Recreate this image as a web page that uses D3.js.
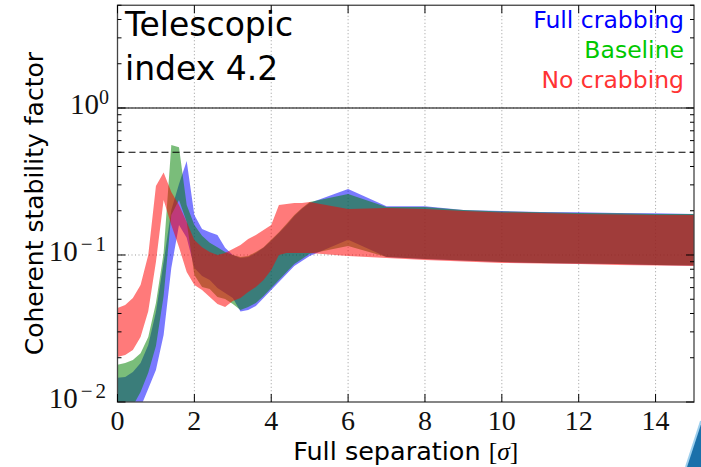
<!DOCTYPE html>
<html>
<head>
<meta charset="utf-8">
<script src="https://cdn.jsdelivr.net/npm/d3@7"></script>
<style>
  body { margin: 0; background: #fff; }
  svg { display: block; }
</style>
</head>
<body>
<svg id="chart" width="701" height="467"></svg>
<script>
// Full separation in units of sigma
const separation = [0, 0.2, 0.4, 0.6, 0.8, 1.0, 1.2, 1.4, 1.6, 1.8, 2.0, 2.2, 2.4, 2.6, 2.8,
  3.0, 3.2, 3.4, 3.6, 3.8, 4.0, 4.2, 4.4, 4.6, 4.8, 5.0, 6, 7, 8, 9, 10, 11, 12, 13, 14, 15];

// Coherent stability factor envelopes (lower / upper) per scenario
const fullCrabLow = [0.0050, 0.0055, 0.0070, 0.0092, 0.0123, 0.0165, 0.0286, 0.0816, 0.160, 0.131,
  0.0816, 0.0720, 0.0676, 0.0596, 0.0551, 0.0510, 0.0413, 0.0422, 0.0450, 0.0510, 0.0578, 0.0655,
  0.0743, 0.0842, 0.0910, 0.0984, 0.127, 0.0969, 0.0939, 0.0918, 0.0896, 0.0882, 0.0876, 0.0869,
  0.0855, 0.0848];
const fullCrabHigh = [0.0146, 0.0148, 0.0160, 0.0184, 0.0244, 0.0409, 0.0896, 0.202, 0.304, 0.436,
  0.187, 0.150, 0.143, 0.137, 0.112, 0.100, 0.0954, 0.0969, 0.103, 0.112, 0.125, 0.141, 0.160,
  0.184, 0.206, 0.226, 0.281, 0.215, 0.215, 0.202, 0.199, 0.196, 0.195, 0.193, 0.192, 0.190];

const baselineLow = [0.0070, 0.0078, 0.0094, 0.0117, 0.0158, 0.0240, 0.0526, 0.187, 0.237, 0.168,
  0.0731, 0.0606, 0.0587, 0.0518, 0.0502, 0.0464, 0.0422, 0.0443, 0.0472, 0.0526, 0.0596, 0.0676,
  0.0766, 0.0869, 0.0939, 0.102, 0.115, 0.0969, 0.0939, 0.0918, 0.0896, 0.0882, 0.0876, 0.0869,
  0.0855, 0.0848];
const baselineHigh = [0.0179, 0.0184, 0.0193, 0.0215, 0.0277, 0.0472, 0.103, 0.56, 0.54, 0.219,
  0.160, 0.135, 0.121, 0.113, 0.105, 0.100, 0.0969, 0.0984, 0.105, 0.113, 0.127, 0.143, 0.163,
  0.187, 0.209, 0.229, 0.260, 0.212, 0.212, 0.202, 0.198, 0.195, 0.193, 0.192, 0.190, 0.190];

const noCrabLow = [0.0202, 0.0209, 0.0226, 0.0277, 0.0415, 0.0896, 0.237, 0.160, 0.113, 0.0766,
  0.0625, 0.0578, 0.0518, 0.0464, 0.0443, 0.0486, 0.0510, 0.0560, 0.0606, 0.0676, 0.0791, 0.100,
  0.103, 0.103, 0.103, 0.103, 0.0984, 0.0954, 0.0925, 0.0903, 0.0882, 0.0876, 0.0869, 0.0855,
  0.0848, 0.0842];
const noCrabHigh = [0.0436, 0.0457, 0.0510, 0.0625, 0.100, 0.295, 0.364, 0.268, 0.219, 0.168,
  0.1265, 0.113, 0.105, 0.100, 0.103, 0.110, 0.117, 0.1285, 0.137, 0.148, 0.160, 0.219, 0.222,
  0.226, 0.226, 0.229, 0.2055, 0.2088, 0.2055, 0.1992, 0.1945, 0.1931, 0.1901, 0.1886, 0.1871,
  0.1871];

const seriesNames = ["Full crabbing", "Baseline", "No crabbing"];
const fillColors = ["#0000ff", "#008000", "#ff0000"];
const labelColors = ["#0000ff", "#00c800", "#ff3333"];

const xTicks = [0, 2, 4, 6, 8, 10, 12, 14];
const yTicks = [0.01, 0.1, 1];
const yTickExponents = ["\u22122", "\u22121", "0"];
const referenceLevels = [1, 0.5];

const svg = d3.select("#chart");
const sans = "'DejaVu Sans', sans-serif";
const serif = "'Liberation Serif', 'DejaVu Serif', serif";

const x = d3.scaleLinear().domain([0, 15]).range([117.5, 694]);
const y = d3.scaleLog().domain([0.01, 5]).range([402, 5.25]);
const [x0, x1] = x.range();
const [yb, yt] = y.range();

svg.append("defs").append("clipPath").attr("id", "plot-clip")
  .append("rect").attr("x", x0).attr("y", yt).attr("width", x1 - x0).attr("height", yb - yt);

// dotted grid
const grid = svg.append("g").attr("stroke", "#9a9a9a").attr("stroke-width", 1)
  .attr("stroke-dasharray", "1,2.5");
xTicks.filter(d => d > 0).forEach(d => {
  grid.append("line").attr("x1", x(d)).attr("x2", x(d)).attr("y1", yt).attr("y2", yb);
});
yTicks.filter(d => d > 0.01).forEach(d => {
  grid.append("line").attr("x1", x0).attr("x2", x1).attr("y1", y(d)).attr("y2", y(d));
});

// stability envelopes
const bands = [
  { low: fullCrabLow, high: fullCrabHigh },
  { low: baselineLow, high: baselineHigh },
  { low: noCrabLow, high: noCrabHigh }
];
const area = d3.area()
  .x((d, i) => x(separation[i]))
  .y0(d => y(d[0]))
  .y1(d => y(d[1]));
const bandLayer = svg.append("g").attr("clip-path", "url(#plot-clip)");
bands.forEach((b, k) => {
  const pts = b.low.map((v, i) => [v, b.high[i]]);
  bandLayer.append("path")
    .attr("d", area(pts))
    .attr("fill", fillColors[k])
    .attr("fill-opacity", 0.52)
    .attr("stroke", "none");
});

// reference levels: solid at 1, dashed at 0.5
svg.append("line").attr("x1", x0).attr("x2", x1)
  .attr("y1", y(referenceLevels[0])).attr("y2", y(referenceLevels[0]))
  .attr("stroke", "#000").attr("stroke-width", 1.2);
svg.append("line").attr("x1", x0).attr("x2", x1)
  .attr("y1", y(referenceLevels[1])).attr("y2", y(referenceLevels[1]))
  .attr("stroke", "#000").attr("stroke-width", 1.2).attr("stroke-dasharray", "7,4");

// frame
svg.append("rect").attr("x", x0).attr("y", yt).attr("width", x1 - x0).attr("height", yb - yt)
  .attr("fill", "none").attr("stroke", "#444").attr("stroke-width", 1.3);

// ticks pointing inward
const ticks = svg.append("g").attr("stroke", "#000").attr("stroke-width", 1);
xTicks.forEach(d => {
  ticks.append("line").attr("x1", x(d)).attr("x2", x(d)).attr("y1", yb).attr("y2", yb - 8);
  ticks.append("line").attr("x1", x(d)).attr("x2", x(d)).attr("y1", yt).attr("y2", yt + 8);
});
const minorY = [];
[0.01, 0.1, 1].forEach(dec => { for (let m = 2; m <= 9; m++) minorY.push(dec * m); });
minorY.filter(v => v <= 5).forEach(v => {
  ticks.append("line").attr("x1", x0).attr("x2", x0 + 4).attr("y1", y(v)).attr("y2", y(v));
  ticks.append("line").attr("x1", x1).attr("x2", x1 - 4).attr("y1", y(v)).attr("y2", y(v));
});
yTicks.forEach(v => {
  ticks.append("line").attr("x1", x0).attr("x2", x0 + 8).attr("y1", y(v)).attr("y2", y(v));
  ticks.append("line").attr("x1", x1).attr("x2", x1 - 8).attr("y1", y(v)).attr("y2", y(v));
});

// tick labels
xTicks.forEach(d => {
  svg.append("text").attr("x", x(d)).attr("y", 430)
    .attr("text-anchor", "middle").attr("font-family", serif).attr("font-size", 28)
    .attr("fill", "#111").text(d);
});
yTicks.forEach((v, i) => {
  const t = svg.append("text").attr("x", 109).attr("y", y(v) + 6)
    .attr("text-anchor", "end").attr("font-family", serif).attr("fill", "#111");
  t.append("tspan").attr("font-size", 29).text("10");
  const exp = yTickExponents[i];
  if (exp.length > 1) {
    t.append("tspan").attr("font-size", 21).attr("dy", -10).attr("dx", 3)
      .attr("letter-spacing", 3).text(exp);
  } else {
    t.append("tspan").attr("font-size", 20).attr("dy", -10).text(exp);
  }
});

// axis titles
const xl = svg.append("text").attr("x", (x0 + x1) / 2).attr("y", 460)
  .attr("text-anchor", "middle").attr("font-family", sans).attr("font-size", 25.5).attr("fill", "#000");
xl.append("tspan").text("Full separation ");
xl.append("tspan").attr("font-family", serif).text("[");
xl.append("tspan").attr("font-family", serif).attr("font-style", "italic").text("\u03c3");
xl.append("tspan").attr("font-family", serif).text("]");

svg.append("text")
  .attr("transform", `translate(43,${(yt + yb) / 2}) rotate(-90)`)
  .attr("text-anchor", "middle").attr("font-family", sans).attr("font-size", 25).attr("fill", "#000")
  .text("Coherent stability factor");

// panel annotation
svg.append("text").attr("x", 125).attr("y", 36).attr("font-family", sans).attr("font-size", 33)
  .attr("fill", "#000").text("Telescopic");
svg.append("text").attr("x", 125).attr("y", 80).attr("font-family", sans).attr("font-size", 33)
  .attr("fill", "#000").text("index 4.2");

// legend as coloured labels
seriesNames.forEach((name, i) => {
  svg.append("text").attr("x", 684).attr("y", 28 + i * 30)
    .attr("text-anchor", "end").attr("font-family", sans).attr("font-size", 23.5)
    .attr("fill", labelColors[i]).text(name);
});

// slide background accent in the corner
svg.append("path").attr("d", "M701,421 L701,467 L686,467 Z").attr("fill", "#1b70aa");
svg.append("line").attr("x1", 701).attr("y1", 421).attr("x2", 686).attr("y2", 467)
  .attr("stroke", "#9fd0ee").attr("stroke-width", 2);
</script>
</body>
</html>
